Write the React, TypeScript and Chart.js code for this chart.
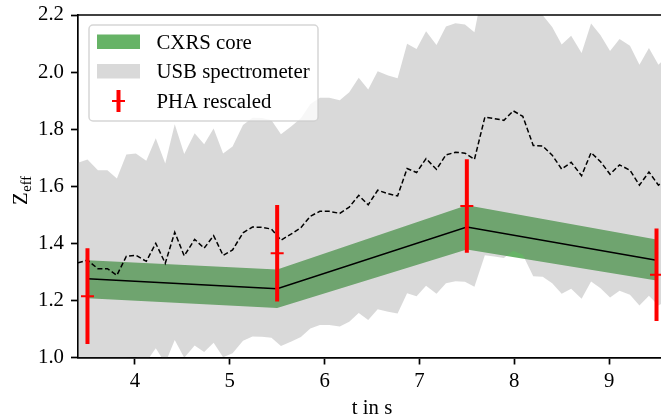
import React, { useEffect, useRef } from "react";
import { Chart, registerables } from "chart.js";

Chart.register(...registerables);

// ---------- data ----------
const usbTimes = [
  3.40, 3.50, 3.61, 3.71, 3.81, 3.91, 4.01, 4.12, 4.22, 4.32,
  4.42, 4.52, 4.63, 4.73, 4.83, 4.93, 5.03, 5.14, 5.24, 5.34,
  5.44, 5.54, 5.65, 5.75, 5.85, 5.95, 6.05, 6.16, 6.26, 6.36,
  6.46, 6.56, 6.67, 6.77, 6.87, 6.97, 7.07, 7.18, 7.28, 7.38,
  7.48, 7.58, 7.69, 7.79, 7.89, 7.99, 8.09, 8.20, 8.30, 8.40,
  8.50, 8.60, 8.71, 8.81, 8.91, 9.01, 9.11, 9.22, 9.32, 9.42,
  9.52, 9.62,
];
const usbMean = [
  1.332, 1.341, 1.311, 1.311, 1.288, 1.355, 1.358, 1.337, 1.400, 1.330,
  1.439, 1.356, 1.414, 1.383, 1.427, 1.358, 1.377, 1.437, 1.457, 1.456,
  1.450, 1.411, 1.433, 1.455, 1.495, 1.512, 1.512, 1.505, 1.527, 1.568,
  1.535, 1.586, 1.574, 1.566, 1.662, 1.648, 1.697, 1.659, 1.710, 1.719,
  1.716, 1.694, 1.842, 1.837, 1.831, 1.864, 1.845, 1.743, 1.741, 1.709,
  1.660, 1.684, 1.637, 1.718, 1.686, 1.642, 1.675, 1.656, 1.604, 1.650,
  1.604, 1.630,
];
const usbUpper = [
  1.682, 1.694, 1.656, 1.656, 1.627, 1.711, 1.715, 1.689, 1.768, 1.680,
  1.817, 1.713, 1.786, 1.747, 1.802, 1.715, 1.739, 1.815, 1.840, 1.839,
  1.831, 1.782, 1.810, 1.838, 1.888, 1.910, 1.910, 1.901, 1.929, 1.980,
  1.939, 2.003, 1.988, 1.978, 2.099, 2.081, 2.143, 2.095, 2.160, 2.171,
  2.167, 2.140, 2.326, 2.320, 2.313, 2.354, 2.330, 2.201, 2.199, 2.158,
  2.097, 2.127, 2.067, 2.170, 2.129, 2.074, 2.116, 2.092, 2.026, 2.084,
  2.026, 2.059,
];
const usbLower = [
  0.982, 0.988, 0.966, 0.966, 0.949, 0.999, 1.001, 0.985, 1.032, 0.980,
  1.061, 0.999, 1.042, 1.019, 1.052, 1.001, 1.015, 1.059, 1.074, 1.073,
  1.069, 1.040, 1.056, 1.072, 1.102, 1.114, 1.114, 1.109, 1.125, 1.156,
  1.131, 1.169, 1.160, 1.154, 1.225, 1.215, 1.251, 1.223, 1.260, 1.267,
  1.265, 1.248, 1.358, 1.354, 1.349, 1.374, 1.360, 1.285, 1.283, 1.260,
  1.223, 1.241, 1.206, 1.266, 1.243, 1.210, 1.234, 1.220, 1.182, 1.216,
  1.182, 1.201,
];

const cxrsTimes = [3.5, 5.5, 7.5, 9.5];
const cxrsValues = [1.276, 1.241, 1.457, 1.341];
const cxrsLower = [1.208, 1.173, 1.378, 1.270];
const cxrsUpper = [1.341, 1.308, 1.533, 1.413];

const phaTimes = [3.5, 5.5, 7.5, 9.5];
const phaValues = [1.215, 1.365, 1.531, 1.290];
const phaErrors = [0.168, 0.169, 0.164, 0.162];

const xTickValues = [4, 5, 6, 7, 8, 9];
const yTickValues = [1.0, 1.2, 1.4, 1.6, 1.8, 2.0, 2.2];
const xRange = [3.4, 9.6];
const yRange = [1.0, 2.2];

const legendLabels = ["CXRS core", "USB spectrometer", "PHA rescaled"];
const xTitle = "t in s";
const yTitleMain = "Z";
const yTitleSub = "eff";

// ---------- styles ----------
const FONT = '"Liberation Serif", "Times New Roman", serif';
const FS = 20.8;
const GREEN = "rgba(0,128,0,0.6)";
const GREY = "rgba(128,128,128,0.3)";
const RED = "#ff0000";
const SPINE = 1.7;
const PLOT_LEFT = 78;
const PLOT_RIGHT = 666;
const PLOT_BOTTOM = 357.5;
const CANVAS_W = 680;
const CANVAS_H = 419;

const pts = (xs: number[], ys: number[]) => xs.map((x, i) => ({ x, y: ys[i] }));

const overlayPlugin = {
  id: "overlay",
  afterDraw(chart: any) {
    const { ctx } = chart;
    const { left, top, right } = chart.chartArea;
    ctx.save();
    // top spine
    ctx.strokeStyle = "#000";
    ctx.lineWidth = SPINE;
    ctx.beginPath();
    ctx.moveTo(left - SPINE / 2, top);
    ctx.lineTo(right + 2, top);
    ctx.stroke();

    // x title
    ctx.fillStyle = "#000";
    ctx.font = `${FS}px ${FONT}`;
    ctx.textAlign = "center";
    ctx.textBaseline = "alphabetic";
    ctx.fillText(xTitle, (left + right) / 2, 414);

    // y title with subscript
    ctx.save();
    ctx.translate(27, 205);
    ctx.rotate(-Math.PI / 2);
    ctx.textAlign = "left";
    ctx.font = `${FS}px ${FONT}`;
    ctx.fillText(yTitleMain, 0, 0);
    const wz = ctx.measureText(yTitleMain).width;
    ctx.font = `${FS * 0.7}px ${FONT}`;
    ctx.fillText(yTitleSub, wz + 0.5, 4);
    ctx.restore();

    // legend
    const lx = 89, ly = 25, lw = 229, lh = 96, r = 4;
    ctx.beginPath();
    ctx.moveTo(lx + r, ly);
    ctx.lineTo(lx + lw - r, ly);
    ctx.arcTo(lx + lw, ly, lx + lw, ly + r, r);
    ctx.lineTo(lx + lw, ly + lh - r);
    ctx.arcTo(lx + lw, ly + lh, lx + lw - r, ly + lh, r);
    ctx.lineTo(lx + r, ly + lh);
    ctx.arcTo(lx, ly + lh, lx, ly + lh - r, r);
    ctx.lineTo(lx, ly + r);
    ctx.arcTo(lx, ly, lx + r, ly, r);
    ctx.closePath();
    ctx.fillStyle = "rgba(255,255,255,0.8)";
    ctx.fill();
    ctx.strokeStyle = "rgba(204,204,204,0.8)";
    ctx.lineWidth = 1.5;
    ctx.stroke();

    ctx.fillStyle = GREEN;
    ctx.fillRect(97, 34.5, 43, 14.5);
    ctx.fillStyle = GREY;
    ctx.fillRect(97, 64, 43, 14.5);

    ctx.strokeStyle = RED;
    ctx.lineWidth = 4;
    ctx.beginPath();
    ctx.moveTo(118.5, 90);
    ctx.lineTo(118.5, 112);
    ctx.stroke();
    ctx.lineWidth = 2;
    ctx.beginPath();
    ctx.moveTo(112, 101);
    ctx.lineTo(125, 101);
    ctx.stroke();

    ctx.fillStyle = "#000";
    ctx.font = `${FS}px ${FONT}`;
    ctx.textAlign = "left";
    ctx.textBaseline = "alphabetic";
    ctx.fillText(legendLabels[0], 156.5, 48.5);
    ctx.fillText(legendLabels[1], 156.5, 78);
    ctx.fillText(legendLabels[2], 156.5, 107.5);
    ctx.restore();
  },
};

export default function App() {
  const ref = useRef<HTMLCanvasElement | null>(null);

  useEffect(() => {
    if (!ref.current) return;

    const phaBars: any[] = [];
    phaTimes.forEach((t, i) => {
      phaBars.push({ x: t, y: phaValues[i] - phaErrors[i] });
      phaBars.push({ x: t, y: phaValues[i] + phaErrors[i] });
      phaBars.push({ x: t, y: null });
    });

    const chart = new Chart(ref.current, {
      type: "line",
      data: {
        datasets: [
          {
            label: "cxrsLow",
            data: pts(cxrsTimes, cxrsLower),
            borderWidth: 0,
            pointRadius: 0,
            fill: false,
            order: 8,
          },
          {
            label: legendLabels[0],
            data: pts(cxrsTimes, cxrsUpper),
            borderWidth: 0,
            pointRadius: 0,
            backgroundColor: GREEN,
            fill: 0,
            order: 7,
          },
          {
            label: "usbLow",
            data: pts(usbTimes, usbLower),
            borderWidth: 0,
            pointRadius: 0,
            fill: false,
            order: 6,
          },
          {
            label: legendLabels[1],
            data: pts(usbTimes, usbUpper),
            borderWidth: 0,
            pointRadius: 0,
            backgroundColor: GREY,
            fill: 2,
            order: 5,
          },
          {
            label: "cxrsLine",
            data: pts(cxrsTimes, cxrsValues),
            borderColor: "#000",
            borderWidth: 1.5,
            pointRadius: 0,
            fill: false,
            order: 4,
          },
          {
            label: "usbMean",
            data: pts(usbTimes, usbMean),
            borderColor: "#000",
            borderWidth: 1.5,
            borderDash: [5, 2.6],
            pointRadius: 0,
            fill: false,
            order: 3,
          },
          {
            label: legendLabels[2],
            data: phaBars,
            borderColor: RED,
            borderWidth: 4,
            borderCapStyle: "butt",
            pointRadius: 0,
            spanGaps: false,
            fill: false,
            order: 2,
          },
          {
            label: "phaCenter",
            data: pts(phaTimes, phaValues),
            showLine: false,
            pointStyle: "line",
            pointRadius: 6.5,
            pointBorderWidth: 2,
            pointBorderColor: RED,
            pointBackgroundColor: RED,
            borderColor: RED,
            fill: false,
            order: 1,
          },
        ] as any,
      },
      options: {
        animation: false,
        responsive: false,
        devicePixelRatio: 1,
        events: [],
        elements: { line: { tension: 0 } },
        layout: {
          padding: { top: 15, right: CANVAS_W - PLOT_RIGHT, left: 0, bottom: 0 },
        },
        plugins: {
          legend: { display: false },
          tooltip: { enabled: false },
          title: { display: false },
        },
        scales: {
          x: {
            type: "linear",
            min: xRange[0],
            max: xRange[1],
            afterBuildTicks: (s: any) => {
              s.ticks = xTickValues.map((v) => ({ value: v }));
            },
            afterFit: (s: any) => {
              s.height = CANVAS_H - PLOT_BOTTOM;
              s.paddingLeft = 0;
              s.paddingRight = 0;
              s.paddingTop = 0;
              s.paddingBottom = 0;
            },
            ticks: {
              color: "#000",
              font: { family: FONT, size: FS },
              padding: 5,
              maxRotation: 0,
              autoSkip: false,
              callback: (v: any) => String(v),
            },
            grid: {
              drawOnChartArea: false,
              drawTicks: true,
              tickLength: 7,
              tickWidth: SPINE,
              tickColor: "#000",
            },
            border: { display: true, color: "#000", width: SPINE },
          },
          y: {
            type: "linear",
            min: yRange[0],
            max: yRange[1],
            afterBuildTicks: (s: any) => {
              s.ticks = yTickValues.map((v) => ({ value: v }));
            },
            afterFit: (s: any) => {
              s.width = PLOT_LEFT;
              s.paddingLeft = 0;
              s.paddingRight = 0;
              s.paddingTop = 0;
              s.paddingBottom = 0;
            },
            ticks: {
              color: "#000",
              font: { family: FONT, size: FS },
              padding: 7,
              autoSkip: false,
              callback: (v: any) => Number(v).toFixed(1),
            },
            grid: {
              drawOnChartArea: false,
              drawTicks: true,
              tickLength: 7,
              tickWidth: SPINE,
              tickColor: "#000",
            },
            border: { display: true, color: "#000", width: SPINE },
          },
        },
      } as any,
      plugins: [overlayPlugin],
    });

    return () => chart.destroy();
  }, []);

  return (
    <div
      style={{
        position: "absolute",
        left: 0,
        top: 0,
        width: 661,
        height: 419,
        overflow: "hidden",
        background: "#fff",
      }}
    >
      <canvas
        ref={ref}
        width={CANVAS_W}
        height={CANVAS_H}
        style={{ display: "block", width: CANVAS_W, height: CANVAS_H }}
      />
    </div>
  );
}
